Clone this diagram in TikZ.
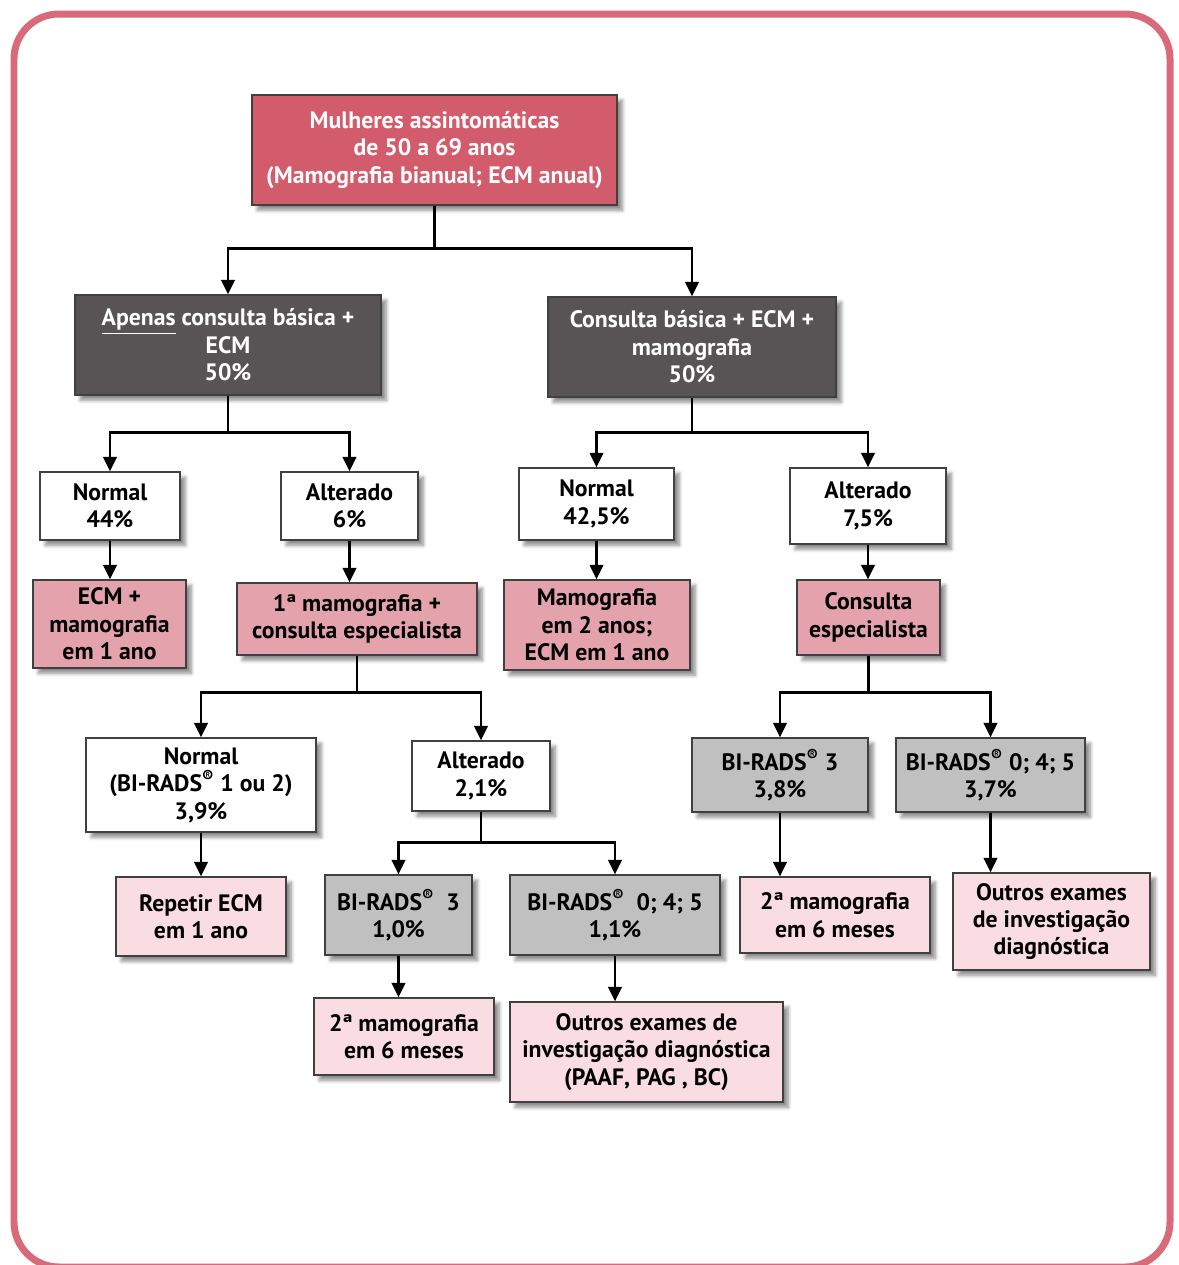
\documentclass[tikz,border=0pt]{standalone}
\usepackage{fontspec}
\setmainfont{PT Sans}
\usepackage{tikz}
\usetikzlibrary{arrows.meta,calc,shadows.blur}

\definecolor{framepink}{RGB}{217,106,122}
\definecolor{redbox}{RGB}{210,92,108}
\definecolor{darkbox}{RGB}{88,84,86}
\definecolor{midpink}{RGB}{228,162,172}
\definecolor{lightpink}{RGB}{250,221,226}
\definecolor{greybox}{RGB}{192,192,192}

\begin{document}
\begin{tikzpicture}[x=0.02cm,y=-0.02cm,
  font=\fontsize{13.5}{15.6}\selectfont\bfseries,
  box/.style={draw=black!75,line width=0.7pt,align=center,inner sep=2pt,
    blur shadow={shadow xshift=3pt,shadow yshift=-3pt,shadow blur steps=6,shadow opacity=45}},
  sz/.style 2 args={minimum width=#1*0.02cm,minimum height=#2*0.02cm},
  top/.style={box,fill=redbox,text=white},
  dark/.style={box,fill=darkbox,text=white},
  plain/.style={box,fill=white},
  mid/.style={box,fill=midpink},
  soft/.style={box,fill=lightpink},
  grey/.style={box,fill=greybox},
  arr/.style={line width=0.05cm,-{Triangle[length=0.29cm,width=0.27cm]}}]

\useasboundingbox (0,0) rectangle (1178,1265);
\draw[framepink,line width=0.14cm,rounded corners=0.9cm] (14,14) rectangle (1170,1267);

\node[top,sz={365}{110}] (a1) at (434.5,150) {Mulheres assintomáticas\\de 50 a 69 anos\\(Mamografia bianual; ECM anual)};

\node[dark,sz={306}{100}] (b1) at (228,345) {\underline{Apenas} consulta básica +\\ECM\\50\%};
\node[dark,sz={288}{100}] (b2) at (692,347) {Consulta básica + ECM +\\mamografia\\50\%};

\node[plain,sz={140}{68}] (c1) at (110,506) {Normal\\44\%};
\node[plain,sz={137}{68}] (c2) at (349.5,506) {Alterado\\6\%};
\node[plain,sz={155}{72}] (c3) at (596.5,504) {Normal\\42,5\%};
\node[plain,sz={156}{76}] (c4) at (868,506) {Alterado\\7,5\%};

\node[mid,sz={153}{88}] (d1) at (109.5,624) {ECM +\\mamografia\\em 1 ano};
\node[mid,sz={240}{72}] (d2) at (357,619) {1ª mamografia +\\consulta especialista};
\node[mid,sz={186}{90}] (d3) at (597,625) {Mamografia\\em 2 anos;\\ECM em 1 ano};
\node[mid,sz={143}{75}] (d4) at (868.5,617.5) {Consulta\\especialista};

\node[plain,sz={230}{94}] (e1) at (201,785) {Normal\\(BI-RADS\textsuperscript{®} 1 ou 2)\\3,9\%};
\node[plain,sz={138}{70}] (e2) at (481,776) {Alterado\\2,1\%};
\node[grey,sz={176}{74}] (e3) at (780,775) {BI-RADS\textsuperscript{®} 3\\3,8\%};
\node[grey,sz={189}{74}] (e4) at (990.5,775) {BI-RADS\textsuperscript{®} 0; 4; 5\\3,7\%};

\node[soft,sz={170}{79}] (f1) at (201,916.5) {Repetir ECM\\em 1 ano};
\node[grey,sz={147}{80}] (f2) at (398.5,915) {BI-RADS\textsuperscript{®}\ \ 3\\1,0\%};
\node[grey,sz={210}{80}] (f3) at (615,915) {BI-RADS\textsuperscript{®}\ \ 0; 4; 5\\1,1\%};
\node[soft,sz={190}{76}] (f4) at (835,915) {2ª mamografia\\em 6 meses};
\node[soft,sz={197}{97}] (f5) at (1051.5,921.5) {Outros exames\\de investigação\\diagnóstica};

\node[soft,sz={180}{77}] (g1) at (404,1036.5) {2ª mamografia\\em 6 meses};
\node[soft,sz={273}{100}] (g2) at (646.5,1052) {Outros exames de\\investigação diagnóstica\\(PAAF, PAG , BC)};

% branches
\foreach \p/\c/\h in {a1/b1/43,a1/b2/43,b1/c1/37,b1/c2/37,b2/c3/35,b2/c4/35,
    d2/e1/37,d2/e2/37,d4/e3/37,d4/e4/37,e2/f2/31,e2/f3/31}
  \draw[arr] (\p.south) -- ++(0,\h) -| (\c.north);

% single steps
\foreach \p/\c in {c1/d1,c2/d2,c3/d3,c4/d4,e1/f1,e3/f4,e4/f5,f2/g1,f3/g2}
  \draw[arr] (\p.south) -- (\p.south |- \c.north);

\end{tikzpicture}
\end{document}
